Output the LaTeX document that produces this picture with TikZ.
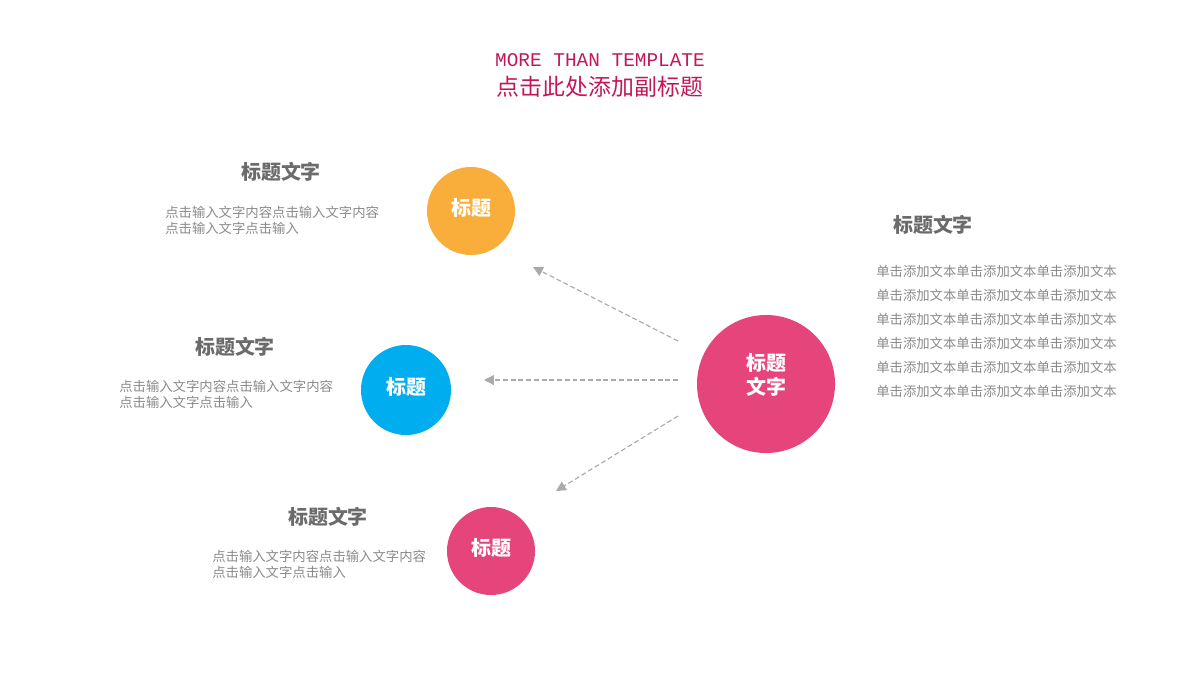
\documentclass[tikz,border=0pt]{standalone}
\usepackage{fontspec}
\setmainfont{Noto Sans CJK SC}
\newfontfamily\titlefont{Liberation Mono}
\usetikzlibrary{arrows.meta}
\definecolor{titlered}{HTML}{C2185B}
\definecolor{orangec}{HTML}{F9AE3B}
\definecolor{bluec}{HTML}{00AEEF}
\definecolor{pinkc}{HTML}{E6457C}
\definecolor{headgray}{HTML}{6B6B6B}
\definecolor{bodygray}{HTML}{8A8A8A}
\definecolor{arrowgray}{HTML}{AAAAAA}
\tikzset{
	ball/.style={circle, minimum size=#1, inner sep=0pt, text=white, text depth=6pt, font=\fontsize{14.2}{17}\selectfont\bfseries, align=center},
	head/.style={text=headgray, font=\fontsize{14.2}{17}\selectfont\bfseries},
	body/.style={text=bodygray, font=\fontsize{9.5}{11.4}\selectfont, align=left, anchor=west, inner sep=0pt},
	rbody/.style={text=bodygray, font=\fontsize{9.5}{17}\selectfont, align=left, anchor=north west, inner sep=0pt},
	link/.style={arrowgray, dashed, dash pattern=on 3.5pt off 2pt, line width=0.8pt, -{Triangle[length=7pt, width=7pt]}}
}
\begin{document}
\begin{tikzpicture}[x=0.025cm, y=-0.025cm]
		\useasboundingbox (0,0) rectangle (1200,680);
		%title
		\node (title) at (600, 60) [titlered, font=\titlefont\fontsize{13.8}{16}\selectfont]{MORE THAN TEMPLATE};
		\node (subtitle) at (600, 87) [titlered, font=\fontsize{16.3}{18}\selectfont]{点击此处添加副标题};
		
		%circles
		\node (top) at (471, 211) [ball=2.2cm, fill=orangec]{标题};
		\node (mid) at (406, 390) [ball=2.25cm, fill=bluec]{标题};
		\node (bot) at (491, 551) [ball=2.2cm, fill=pinkc]{标题};
		\node (big) at (766, 384) [ball=3.45cm, fill=pinkc, text depth=14pt]{标题\\文字};
		
		%arrows
		\coordinate (s1) at (678, 341);
		\coordinate (e1) at (533, 267);
		\coordinate (s2) at (678, 380);
		\coordinate (e2) at (484, 380);
		\coordinate (s3) at (678, 416);
		\coordinate (e3) at (556, 491);
		\draw[link] (s1) -- (e1);
		\draw[link] (s2) -- (e2);
		\draw[link] (s3) -- (e3);
		
		%left texts
		\node (h1) at (281, 172) [head]{标题文字};
		\node (t1) at (165, 220) [body]{点击输入文字内容点击输入文字内容\\点击输入文字点击输入};
		\node (h2) at (235, 347) [head]{标题文字};
		\node (t2) at (119, 394) [body]{点击输入文字内容点击输入文字内容\\点击输入文字点击输入};
		\node (h3) at (328, 517) [head]{标题文字};
		\node (t3) at (212, 564) [body]{点击输入文字内容点击输入文字内容\\点击输入文字点击输入};
		
		%right text
		\node (h4) at (933, 225) [head]{标题文字};
		\node (t4) at (876, 265) [rbody]{单击添加文本单击添加文本单击添加文本\\单击添加文本单击添加文本单击添加文本\\单击添加文本单击添加文本单击添加文本\\单击添加文本单击添加文本单击添加文本\\单击添加文本单击添加文本单击添加文本\\单击添加文本单击添加文本单击添加文本};
		\end{tikzpicture}
\end{document}
